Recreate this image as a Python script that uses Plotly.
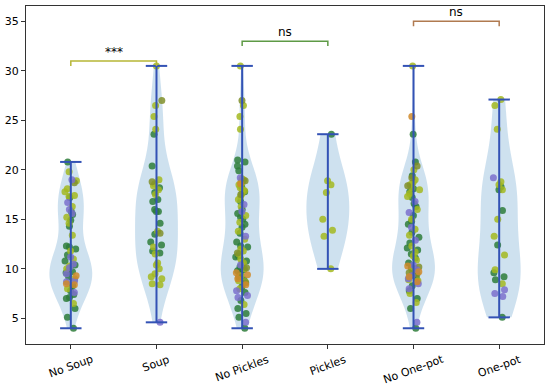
import numpy as np
import plotly.graph_objects as go

# ---------------- data ----------------
categories = ["No Soup", "Soup", "No Pickles", "Pickles", "No One-pot", "One-pot"]

no_soup_vals = [20.8, 19.8, 19.0, 18.9, 18.7, 18.1, 17.8, 17.4, 17.3, 17.2,
                16.7, 16.3, 16.0, 15.8, 15.6, 15.5, 15.2, 14.9, 14.6, 14.3,
                13.4, 12.3, 12.2, 12.0, 11.8, 11.4, 11.2, 11.0, 10.8, 10.5,
                10.4, 10.3, 10.1, 10.0, 9.9, 9.7, 9.6, 9.5, 9.3, 9.2,
                9.0, 8.8, 8.7, 8.5, 8.4, 8.3, 8.0, 7.8, 7.6, 7.4,
                7.1, 7.0, 6.5, 6.0, 5.1, 4.0]
no_soup_hue = list("GLPLDLLLLG" "PLPGPGLGLG" "LGGGLGPLGP" "GLPLGGGPOG" "LPPOOGLGPG" "GGLGGG")

soup_vals = [30.5, 27.0, 26.5, 25.4, 24.1, 23.6, 20.4, 19.0, 18.8, 18.6,
             18.4, 18.2, 18.0, 17.7, 17.5, 17.0, 16.8, 16.0, 15.8, 15.8,
             14.6, 13.8, 13.6, 13.5, 12.7, 12.4, 12.2, 11.8, 11.6, 11.5,
             10.6, 10.4, 10.0, 9.5, 9.2, 9.0, 8.5, 8.4, 4.6]
soup_hue = list("LDLLLGGLDL" "LGLGLGGGGG" "GLDGGGLGGL" "LLLLLLLLP")

no_pickles_vals = [30.5, 27.0, 26.5, 25.4, 24.1, 21.0, 20.8, 20.4, 19.9, 19.2,
                   19.1, 19.0, 18.9, 18.8, 18.6, 18.5, 18.3, 18.2, 18.0, 17.8,
                   17.6, 17.5, 17.3, 17.0, 16.8, 16.5, 16.3, 16.0, 15.8, 15.6,
                   15.4, 15.2, 15.0, 14.7, 14.5, 14.2, 13.8, 13.6, 13.3, 13.0,
                   12.7, 12.3, 12.2, 12.0, 11.8, 11.6, 11.5, 11.3, 11.0, 10.8,
                   10.6, 10.4, 10.2, 10.0, 9.8, 9.6, 9.5, 9.3, 9.2, 9.0,
                   8.9, 8.8, 8.6, 8.4, 8.2, 8.0, 7.8, 7.6, 7.3, 7.1,
                   6.8, 6.4, 6.0, 5.5, 5.1, 4.6, 4.0,
                   18.7, 17.9, 11.2, 10.5, 10.1, 9.9, 9.4, 8.7]
no_pickles_hue = list("LDLLLGGGGP" "LLDLOLGLLG" "LDLLGPLGPG" "LGGLGGLGPL" "GGGLLDLGLG"
                      "LPGLGOGLDO" "GLDOGLPGPP" "GLGGGPG" "LLGLDGOL")

pickles_vals = [23.6, 18.9, 18.5, 17.7, 15.0, 13.9, 13.3, 10.0]
pickles_hue = list("GLLLLLLL")

no_onepot_vals = [30.5, 25.4, 23.6, 20.8, 20.4, 20.0, 19.4, 19.2, 19.0, 18.8,
                  18.6, 18.4, 18.2, 18.0, 17.8, 17.6, 17.3, 17.2, 16.8, 16.6,
                  16.3, 16.0, 15.7, 15.4, 15.0, 14.8, 14.5, 14.2, 14.0, 13.7,
                  13.4, 13.2, 12.9, 12.6, 12.3, 12.1, 11.9, 11.7, 11.5, 11.3,
                  11.1, 10.9, 10.6, 10.4, 10.2, 10.0, 9.9, 9.7, 9.5, 9.4,
                  9.2, 9.0, 8.9, 8.7, 8.5, 8.3, 8.0, 7.8, 7.5, 7.0,
                  6.6, 6.0, 4.6, 4.0,
                  10.3, 10.1, 9.8, 9.6, 9.3, 9.1, 8.8, 18.5, 18.1]
no_onepot_hue = list("LOGGDLGDLL" "LDLLGLLGPG" "GLPGLGGPLG" "LGPGLGGLGL" "GLGPDGPODG"
                     "OPLOPGPGLG" "LGPG" "OGLDPGLLG")

onepot_vals = [27.1, 26.5, 24.1, 19.2, 18.8, 18.5, 18.3, 18.0, 18.0, 15.9,
               15.0, 13.3, 12.4, 11.4, 9.9, 9.6, 9.2, 8.9, 8.5, 7.9,
               7.5, 7.2, 5.1]
onepot_hue = list("LLLPLLGGLG" "LLGLLGGGLP" "PPG")

# significance comparisons: (group a, group b, label)
comparisons = [(0, 1, "***"), (2, 3, "ns"), (4, 5, "ns")]

# ---------------- styles ----------------
hue_colors = {"G": "#2e7d3a", "L": "#a3b820", "D": "#808f2a", "P": "#7b70cc", "O": "#d08a2a"}
violin_fill = "rgba(31,119,180,0.22)"
extrema_color = "#3352b5"
bracket_colors = ["#b6b636", "#5e9a46", "#b07a50"]
bracket_heights = [31.0, 33.0, 35.0]

groups = [
    (no_soup_vals, no_soup_hue),
    (soup_vals, soup_hue),
    (no_pickles_vals, no_pickles_hue),
    (pickles_vals, pickles_hue),
    (no_onepot_vals, no_onepot_hue),
    (onepot_vals, onepot_hue),
]

fig = go.Figure()

# violin bodies (Scott bandwidth, cut at extrema like matplotlib)
for i, (vals, _) in enumerate(groups):
    v = np.array(vals, dtype=float)
    bw = float(np.std(v, ddof=1) * len(v) ** (-0.2))
    fig.add_trace(go.Violin(
        x=[i] * len(v), y=v, width=0.5, bandwidth=bw, spanmode="hard",
        side="both", points=False, fillcolor=violin_fill,
        line=dict(color="rgba(0,0,0,0)", width=0),
        box_visible=False, meanline_visible=False, hoverinfo="skip",
        showlegend=False,
    ))

# jittered points, one trace per group and hue
for i, (vals, hues) in enumerate(groups):
    for h, col in hue_colors.items():
        sub = [val for val, hh in zip(vals, hues) if hh == h]
        if not sub:
            continue
        fig.add_trace(go.Box(
            x=[i] * len(sub), y=sub, width=0.5, boxpoints="all", jitter=0.32,
            pointpos=0, fillcolor="rgba(0,0,0,0)", line=dict(width=0),
            whiskerwidth=0,
            marker=dict(color=col, size=7, opacity=0.85, line=dict(width=0)),
            showlegend=False, hoveron="points",
        ))

# extrema bars and caps
ex, ey = [], []
for i, (vals, _) in enumerate(groups):
    lo, hi = min(vals), max(vals)
    ex += [i, i, None, i - 0.125, i + 0.125, None, i - 0.125, i + 0.125, None]
    ey += [lo, hi, None, lo, lo, None, hi, hi, None]
fig.add_trace(go.Scatter(x=ex, y=ey, mode="lines",
                         line=dict(color=extrema_color, width=2),
                         hoverinfo="skip", showlegend=False))

# significance brackets
for (a, b, lab), col, hgt in zip(comparisons, bracket_colors, bracket_heights):
    fig.add_trace(go.Scatter(x=[a, a, b, b], y=[hgt - 0.5, hgt, hgt, hgt - 0.5],
                             mode="lines", line=dict(color=col, width=1.5),
                             hoverinfo="skip", showlegend=False))
    fig.add_annotation(x=(a + b) / 2, y=hgt, xref="x", yref="y", text=lab,
                       showarrow=False, yanchor="bottom",
                       font=dict(size=12, color="black", family="DejaVu Sans"))

# rotated category labels centred on ticks
for i, c in enumerate(categories):
    fig.add_annotation(x=i, y=0, xref="x", yref="paper", text=c, showarrow=False,
                       textangle=-20, xanchor="center", yanchor="top", yshift=-6,
                       font=dict(size=11, color="black", family="DejaVu Sans"))

fig.update_layout(
    width=550, height=387,
    margin=dict(l=25, r=5, t=5, b=43),
    paper_bgcolor="white", plot_bgcolor="white",
    font=dict(family="DejaVu Sans", size=11, color="black"),
    showlegend=False, violinmode="overlay", boxmode="overlay",
    xaxis=dict(range=[-0.523, 5.523], tickvals=list(range(len(categories))),
               showticklabels=False, showgrid=False, zeroline=False,
               showline=True, mirror=True, linecolor="#333", linewidth=1,
               ticks="outside", ticklen=4, tickcolor="#333"),
    yaxis=dict(range=[2.41, 36.55], tickvals=[5, 10, 15, 20, 25, 30, 35],
               showgrid=False, zeroline=False,
               showline=True, mirror=True, linecolor="#333", linewidth=1,
               ticks="outside", ticklen=4, tickcolor="#333"),
)

fig.write_html("out.html", config={"displayModeBar": False},
               post_script="document.body.style.margin='0';")
